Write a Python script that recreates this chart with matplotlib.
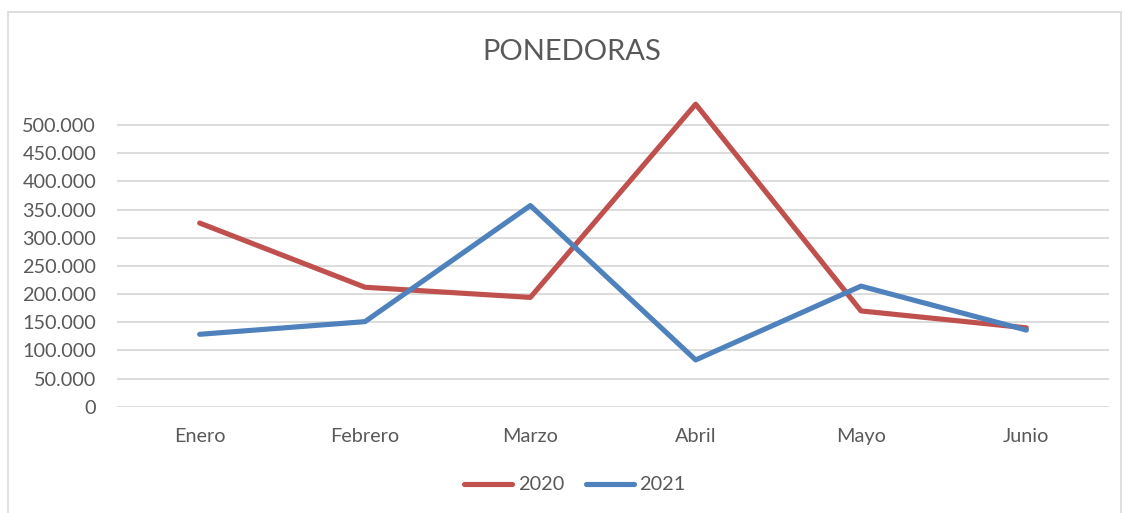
import matplotlib.pyplot as plt
from matplotlib.patches import Rectangle
from matplotlib.ticker import FuncFormatter

plt.rcParams['font.family'] = ['Lato', 'DejaVu Sans']

meses = ["Enero", "Febrero", "Marzo", "Abril", "Mayo", "Junio"]
v2020 = [326000, 212000, 194000, 537000, 170000, 140000]
v2021 = [128500, 151000, 357000, 83000, 214000, 136000]
yticks = list(range(0, 500001, 50000))

gris = '#595959'

fig = plt.figure(figsize=(11.23, 5.13), dpi=100)
fig.patches.append(Rectangle((7.5 / 1123, -0.1), 1113 / 1123, (513 - 12 + 51) / 513,
                             transform=fig.transFigure, fill=False,
                             edgecolor='#D9D9D9', linewidth=1.2))
ax = fig.add_axes([117 / 1123, 1 - 406.7 / 513, 992 / 1123, (406.7 - 91.2) / 513])

x = range(len(meses))
ax.plot(x, v2020, color='#C0504D', lw=3.7, label='2020', solid_capstyle='round')
ax.plot(x, v2021, color='#4F81BD', lw=3.7, label='2021', solid_capstyle='round')

ax.set_xlim(-0.5, 5.5)
ax.set_ylim(0, 560000)
ax.set_yticks(yticks)
ax.yaxis.set_major_formatter(FuncFormatter(lambda v, p: f"{int(v):,}".replace(",", ".")))
ax.set_xticks(list(x))
ax.set_xticklabels(meses)
for y in yticks:
    ax.axhline(y, color='#D9D9D9', lw=1.3, zorder=0)
for s in ax.spines.values():
    s.set_visible(False)
ax.tick_params(length=0, labelsize=14.3, colors=gris)
ax.tick_params(axis='y', pad=15)
ax.tick_params(axis='x', pad=15)

fig.text(0.509, 1 - 52 / 513, "PONEDORAS", ha='center', va='center', fontsize=21, color=gris)
fig.legend(loc='center', bbox_to_anchor=(0.512, 1 - 485 / 513), ncol=2, frameon=False,
           fontsize=14.3, labelcolor=gris, handlelength=2.4, columnspacing=1.1, handletextpad=0.3)

fig.savefig('out.png', dpi=100)
